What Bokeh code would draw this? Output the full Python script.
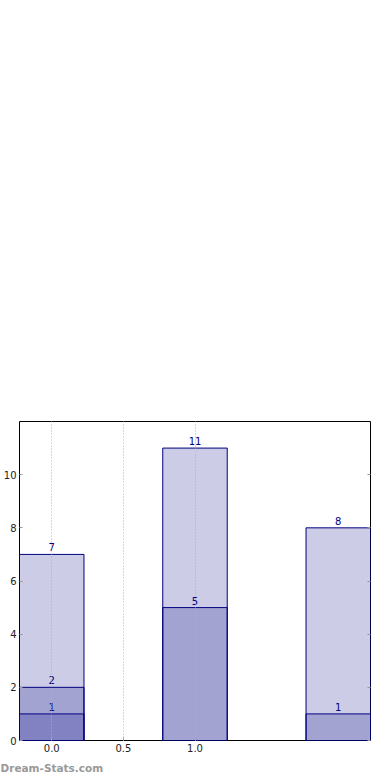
from bokeh.plotting import figure
from bokeh.models import Range1d, FixedTicker, LinearAxis, Title
from bokeh.embed import file_html
from bokeh.resources import INLINE
from bokeh.core.properties import value

# Data
positions = [0, 1, 2]
series_light = [7, 11, 8]
series_mid = [2, 5, 1]
dark_positions = [0]
series_dark = [1]
y_ticks = [0, 2, 4, 6, 8, 10]
x_ticks = [0, 0.5, 1.0]
x_tick_labels = ["0.0", "0.5", "1.0"]
watermark = "Dream-Stats.com"

NAVY = "#000080"
FONT = "DejaVu Sans"

p = figure(width=390, height=780, output_backend="svg", toolbar_location=None,
           x_range=Range1d(-0.225, 2.225), y_range=Range1d(0, 12),
           min_border_top=421, min_border_left=19, min_border_right=20,
           min_border_bottom=40, y_axis_location="left")
p.background_fill_color = "white"
p.border_fill_color = "white"
p.outline_line_color = "black"
p.outline_line_width = 1
p.outline_line_alpha = 1

for xs, vals in [(positions, series_light), (positions, series_mid), (dark_positions, series_dark)]:
    p.vbar(x=xs, top=vals, bottom=0, width=0.45, fill_color=NAVY, fill_alpha=0.2,
           line_color=NAVY, line_width=1)
    p.text(x=xs, y=vals, text=[str(v) for v in vals], text_align="center",
           text_baseline="bottom", y_offset=-3, text_color=NAVY,
           text_font=value(FONT), text_font_size="10px")

# grid
p.ygrid.visible = False
p.xgrid.ticker = FixedTicker(ticks=x_ticks)
p.xgrid.grid_line_color = "#b0b0b0"
p.xgrid.grid_line_dash = "1 2"
p.xgrid.grid_line_width = 1
p.xgrid.level = "overlay"

# axes
xa = p.xaxis[0]
xa.ticker = FixedTicker(ticks=x_ticks)
xa.major_label_overrides = {t: l for t, l in zip(x_ticks, x_tick_labels)}
ya = p.yaxis[0]
ya.ticker = FixedTicker(ticks=y_ticks)
for ax in (xa, ya):
    ax.axis_line_color = None
    ax.major_tick_in = 3
    ax.major_tick_out = 0
    ax.major_tick_line_color = "#999999"
    ax.minor_tick_line_color = None
    ax.major_label_text_font = FONT
    ax.major_label_text_font_size = "10px"
    ax.major_label_text_color = "#222222"
    ax.major_label_standoff = 3

ra = LinearAxis(ticker=FixedTicker(ticks=y_ticks))
ra.axis_line_color = None
ra.major_tick_in = 3
ra.major_tick_out = 0
ra.major_tick_line_color = "#999999"
ra.minor_tick_line_color = None
ra.major_label_text_color = None
ra.major_label_text_font_size = "1px"
ra.major_label_standoff = 0
p.add_layout(ra, "right")

t = Title(text=watermark, align="left", text_color="#999999", text_font=FONT,
          text_font_size="10.5px", text_font_style="bold", offset=-19, standoff=10)
p.add_layout(t, "below")

open("out.html", "w").write(file_html(p, INLINE))
